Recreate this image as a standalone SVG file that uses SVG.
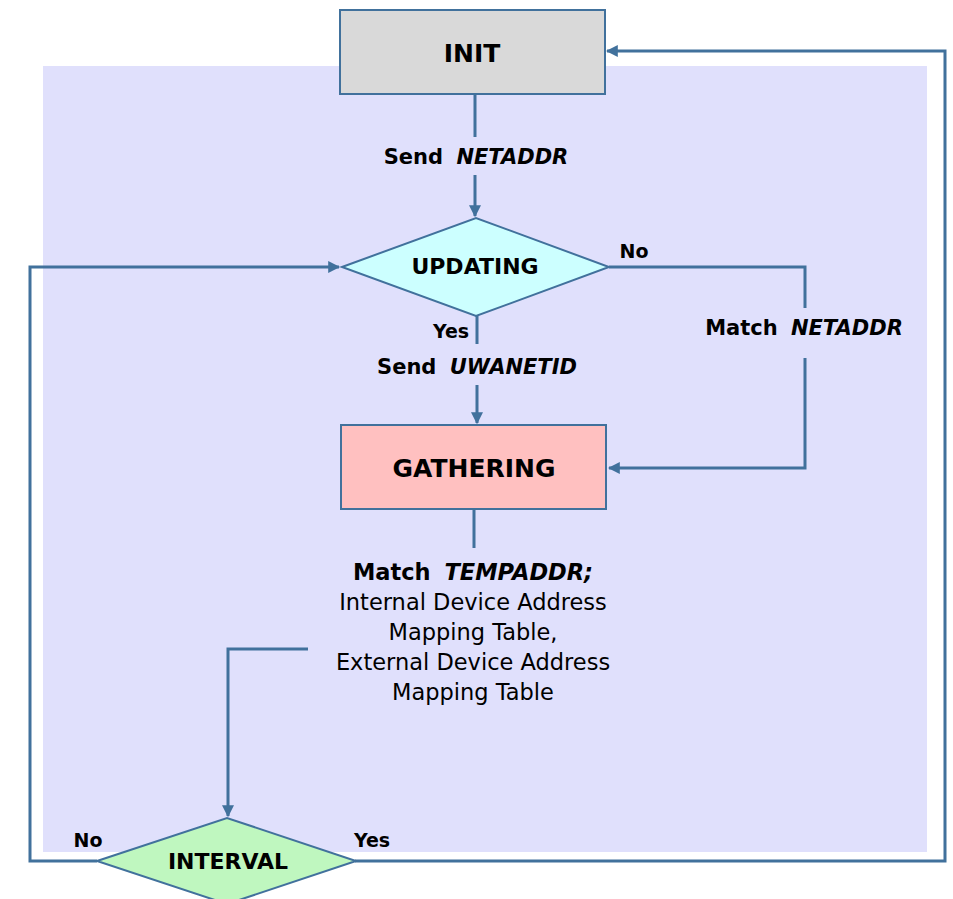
<svg xmlns="http://www.w3.org/2000/svg" width="953" height="899" viewBox="0 0 953 899">
<style>
text{font-family:"DejaVu Sans","Noto Sans",sans-serif;fill:#000}
.node{stroke:#41719c;stroke-width:2}
.t{font-weight:bold;text-anchor:middle;dominant-baseline:central}
.lbl{font-size:21px;font-weight:bold;text-anchor:middle}
.yn{font-size:19px;font-weight:bold;text-anchor:middle}
.it{font-style:italic}
.body{font-size:22.5px;text-anchor:middle}
.con{fill:none;stroke:#41719c;stroke-width:3}
</style>
<defs>
<marker id="ah" viewBox="0 0 10 10" refX="9" refY="5" markerWidth="4" markerHeight="4" orient="auto" markerUnits="strokeWidth">
<path d="M0,0 L10,5 L0,10 z" fill="#41719c"/>
</marker>
</defs>
<rect x="43" y="66" width="884" height="786" fill="#e0e0fc"/>
<g id="connectors">
<path class="con" d="M475,95 V137"/>
<path class="con" d="M475,175 V216" marker-end="url(#ah)"/>
<path class="con" d="M477,316 V344"/>
<path class="con" d="M477,385 V423" marker-end="url(#ah)"/>
<path class="con" d="M609,267 H805 V308"/>
<path class="con" d="M805,358 V468 H609" marker-end="url(#ah)"/>
<path class="con" d="M474,509 V548"/>
<path class="con" d="M308,649 H228 V816" marker-end="url(#ah)"/>
<path class="con" d="M97,861 H30 V267 H339" marker-end="url(#ah)"/>
<path class="con" d="M355,861 H945 V51 H607" marker-end="url(#ah)"/>
</g>
<g id="init">
<rect class="node" x="340" y="10" width="265" height="84" fill="#d9d9d9"/>
<text class="t" x="472" y="53" style="font-size:25px">INIT</text>
</g>
<g id="updating">
<polygon class="node" points="342,267 476,218 609,267 476,316" fill="#ccffff"/>
<text class="t" x="475" y="266" style="font-size:22px">UPDATING</text>
</g>
<g id="gathering">
<rect class="node" x="341" y="425" width="265" height="84" fill="#ffc0c0"/>
<text class="t" x="474" y="468" style="font-size:25px">GATHERING</text>
</g>
<g id="interval">
<polygon class="node" points="97,861 227,818 356,861 227,904" fill="#bff7bf"/>
<text class="t" x="228" y="861" style="font-size:22px">INTERVAL</text>
</g>
<g id="labels">
<text class="lbl" x="476" y="164">Send <tspan class="it" dx="6">NETADDR</tspan></text>
<text class="yn" x="634" y="258">No</text>
<text class="yn" x="451" y="338">Yes</text>
<text class="lbl" x="477" y="374">Send <tspan class="it" dx="6">UWANETID</tspan></text>
<text class="lbl" x="804" y="335">Match <tspan class="it" dx="6">NETADDR</tspan></text>
<text class="yn" x="88" y="847">No</text>
<text class="yn" x="372" y="847">Yes</text>
<text class="body" x="473" y="580"><tspan font-weight="bold">Match </tspan><tspan font-style="italic" font-weight="bold" dx="6">TEMPADDR;</tspan></text>
<text class="body" x="473" y="610">Internal Device Address</text>
<text class="body" x="473" y="640">Mapping Table,</text>
<text class="body" x="473" y="670">External Device Address</text>
<text class="body" x="473" y="700">Mapping Table</text>
</g>
</svg>
